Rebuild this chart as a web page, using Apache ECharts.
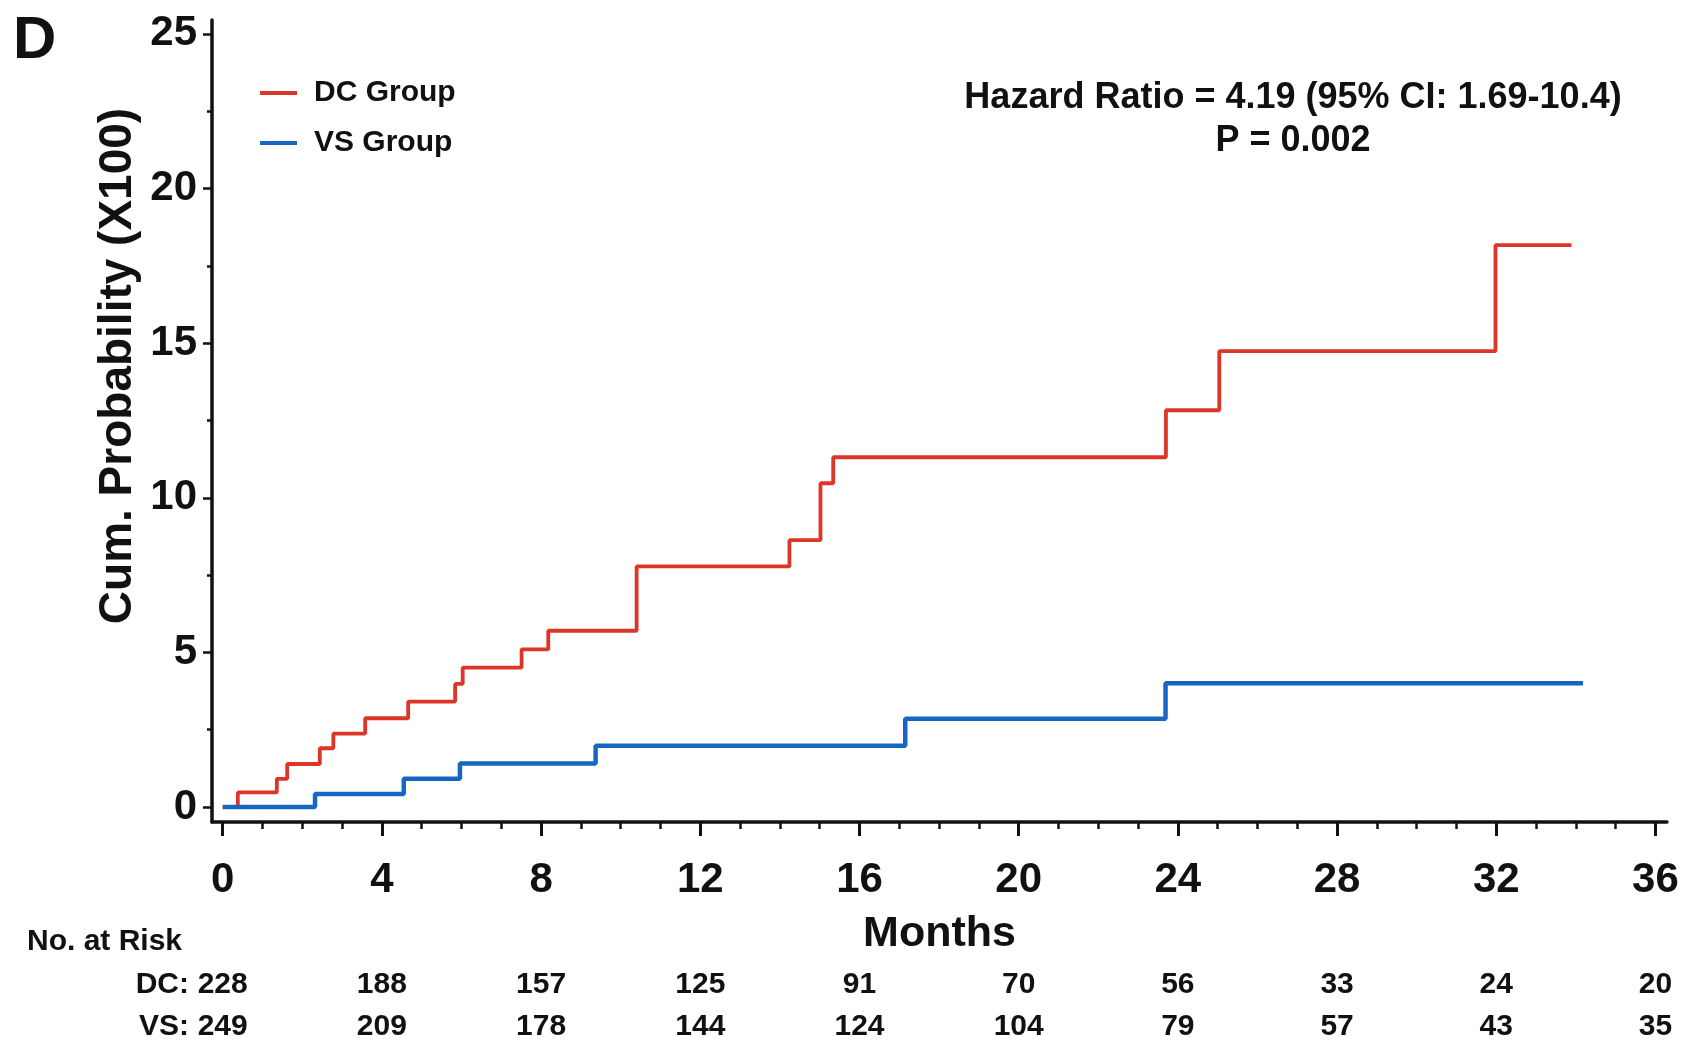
<!DOCTYPE html>
<html>
<head>
<meta charset="utf-8">
<title>Cumulative probability by group</title>
<script src="https://cdn.jsdelivr.net/npm/echarts@6/dist/echarts.min.js"></script>
<style>
  html, body { margin: 0; padding: 0; background: #ffffff; }
  #chart { width: 1683px; height: 1042px; }
</style>
</head>
<body>
<div id="chart"></div>
<script>
// Kaplan-Meier style cumulative probability (x100) by month
const dcTimes = [0, 0.38, 1.36, 1.62, 2.44, 2.78, 3.58, 4.66, 5.84, 6.03, 7.51, 8.18, 10.40, 14.24, 15.02, 15.34, 23.70, 25.04, 31.98, 33.89];
const dcProb  = [0, 0.47, 0.91, 1.39, 1.90, 2.37, 2.87, 3.41, 3.98, 4.51, 5.10, 5.70, 7.78, 8.63, 10.47, 11.31, 12.83, 14.74, 18.17, 18.17];

const vsTimes = [0, 2.32, 4.55, 5.96, 9.37, 17.15, 23.69, 34.18];
const vsProb  = [0, 0.42, 0.91, 1.41, 1.98, 2.85, 4.00, 4.00];

// Axis ticks
const xMajorTicks = [0, 4, 8, 12, 16, 20, 24, 28, 32, 36];
const xMinorTicks = [0, 1, 2, 3, 4, 5, 6, 7, 8, 9, 10, 11, 12, 13, 14, 15, 16, 17, 18, 19, 20, 21, 22, 23, 24, 25, 26, 27, 28, 29, 30, 31, 32, 33, 34, 35, 36];
const yMajorTicks = [0, 5, 10, 15, 20, 25];
const yMinorTicks = [2.5, 7.5, 12.5, 17.5, 22.5];

// Number at risk table
const riskMonths = [0, 4, 8, 12, 16, 20, 24, 28, 32, 36];
const riskRows = ['DC:', 'VS:'];
const riskRowIndex = [0, 1];
const dcRisk = [228, 188, 157, 125, 91, 70, 56, 33, 24, 20];
const vsRisk = [249, 209, 178, 144, 124, 104, 79, 57, 43, 35];

const seriesNames = ['DC Group', 'VS Group'];
const RED = '#dc3628';
const BLUE = '#1767c2';
const FONT = "'Liberation Sans', Arial, Helvetica, sans-serif";
const INK = '#111111';

const xRange = { min: -0.269, max: 36.29 };
const yRange = { min: -0.485, max: 25.45 };
// table rows sit at 0 and 1 on a fixed-step axis
const rowRange = { min: -1.1, max: 1.1, interval: 0.1 };

const chart = echarts.init(document.getElementById('chart'), null, { renderer: 'canvas' });

const riskData = [];
riskMonths.forEach((m, i) => {
  riskData.push([m, riskRowIndex[0], dcRisk[i]]);
  riskData.push([m, riskRowIndex[1], vsRisk[i]]);
});

const option = {
  backgroundColor: '#ffffff',
  animation: false,
  textStyle: { fontFamily: FONT },
  grid: [
    { left: 212, top: 20, width: 1455, height: 802, containLabel: false, outerBoundsMode: 'none' },
    { left: 212, top: 938.8, width: 1455, height: 92.4, containLabel: false, outerBoundsMode: 'none' }
  ],
  legend: {
    data: seriesNames,
    orient: 'vertical',
    left: 255,
    top: 72,
    icon: 'rect',
    itemWidth: 37,
    itemHeight: 4,
    itemGap: 18,
    selectedMode: false,
    textStyle: {
      fontFamily: FONT, fontSize: 30, fontWeight: 'bold', color: INK,
      lineHeight: 32, padding: [0, 0, 0, 12]
    }
  },
  xAxis: [
    {
      type: 'value', gridIndex: 0, min: xRange.min, max: xRange.max, position: 'bottom',
      name: 'Months', nameLocation: 'middle', nameGap: 91,
      nameTextStyle: { fontFamily: FONT, fontSize: 43, fontWeight: 'bold', color: INK },
      axisLine: { show: true, onZero: false, lineStyle: { color: INK, width: 3.5 } },
      axisTick: { show: true, customValues: xMajorTicks, length: 14, lineStyle: { color: INK, width: 3 } },
      axisLabel: {
        show: true, customValues: xMajorTicks, margin: 37,
        fontFamily: FONT, fontSize: 42, fontWeight: 'bold', color: INK
      },
      splitLine: { show: false }
    },
    {
      type: 'value', gridIndex: 0, min: xRange.min, max: xRange.max, position: 'bottom',
      axisLine: { show: false, onZero: false },
      axisTick: { show: true, customValues: xMinorTicks, length: 7, lineStyle: { color: INK, width: 2.5 } },
      axisLabel: { show: false },
      splitLine: { show: false }
    },
    {
      type: 'value', gridIndex: 1, min: xRange.min, max: xRange.max,
      axisLine: { show: false }, axisTick: { show: false }, axisLabel: { show: false },
      splitLine: { show: false }
    }
  ],
  yAxis: [
    {
      type: 'value', gridIndex: 0, min: yRange.min, max: yRange.max, position: 'left',
      axisLine: { show: true, onZero: false, lineStyle: { color: INK, width: 3.5 } },
      axisTick: { show: true, customValues: yMajorTicks, length: 9, lineStyle: { color: INK, width: 2.5 } },
      axisLabel: {
        show: true, customValues: yMajorTicks, margin: 15,
        fontFamily: FONT, fontSize: 42, fontWeight: 'bold', color: INK
      },
      splitLine: { show: false }
    },
    {
      type: 'value', gridIndex: 0, min: yRange.min, max: yRange.max, position: 'left',
      axisLine: { show: false, onZero: false },
      axisTick: { show: true, customValues: yMinorTicks, length: 5, lineStyle: { color: INK, width: 2.5 } },
      axisLabel: { show: false },
      splitLine: { show: false }
    },
    {
      type: 'value', gridIndex: 1, min: rowRange.min, max: rowRange.max, interval: rowRange.interval,
      inverse: true, position: 'left',
      axisLine: { show: false }, axisTick: { show: false }, splitLine: { show: false },
      axisLabel: {
        show: true, customValues: riskRowIndex, margin: 23,
        formatter: v => riskRows[Math.round(v)],
        fontFamily: FONT, fontSize: 30, fontWeight: 'bold', color: INK
      }
    }
  ],
  series: [
    {
      name: seriesNames[0], type: 'line', step: 'end', xAxisIndex: 0, yAxisIndex: 0,
      data: dcTimes.map((t, i) => [t, dcProb[i]]),
      showSymbol: false, symbol: 'none',
      lineStyle: { color: RED, width: 3.8 }, itemStyle: { color: RED }, z: 3
    },
    {
      name: seriesNames[1], type: 'line', step: 'end', xAxisIndex: 0, yAxisIndex: 0,
      data: vsTimes.map((t, i) => [t, vsProb[i]]),
      showSymbol: false, symbol: 'none',
      lineStyle: { color: BLUE, width: 4.5 }, itemStyle: { color: BLUE }, z: 4
    },
    {
      name: 'risk', type: 'scatter', xAxisIndex: 2, yAxisIndex: 2,
      data: riskData, symbolSize: 2,
      itemStyle: { color: 'rgba(255,255,255,0)' },
      label: {
        show: true, position: 'inside', formatter: p => String(p.value[2]),
        fontFamily: FONT, fontSize: 30, fontWeight: 'bold', color: INK,
        textBorderWidth: 0, opacity: 1
      },
      emphasis: { disabled: true },
      silent: true
    }
  ],
  graphic: [
    {
      type: 'text', x: 13, y: 11,
      style: { text: 'D', font: "bold 60px " + FONT, fill: INK, textAlign: 'left', textVerticalAlign: 'top' }
    },
    {
      type: 'text', x: 118, y: 366, rotation: Math.PI / 2,
      style: { text: 'Cum. Probability (X100)', font: "bold 46px " + FONT, fill: INK, textAlign: 'center', textVerticalAlign: 'middle' }
    },
    {
      type: 'text', x: 1293, y: 98,
      style: { text: 'Hazard Ratio = 4.19 (95% CI: 1.69-10.4)', font: "bold 36px " + FONT, fill: INK, textAlign: 'center', textVerticalAlign: 'middle' }
    },
    {
      type: 'text', x: 1293, y: 141,
      style: { text: 'P = 0.002', font: "bold 36px " + FONT, fill: INK, textAlign: 'center', textVerticalAlign: 'middle' }
    },
    {
      type: 'text', x: 27, y: 942,
      style: { text: 'No. at Risk', font: "bold 30px " + FONT, fill: INK, textAlign: 'left', textVerticalAlign: 'middle' }
    }
  ]
};

chart.setOption(option);
</script>
</body>
</html>
